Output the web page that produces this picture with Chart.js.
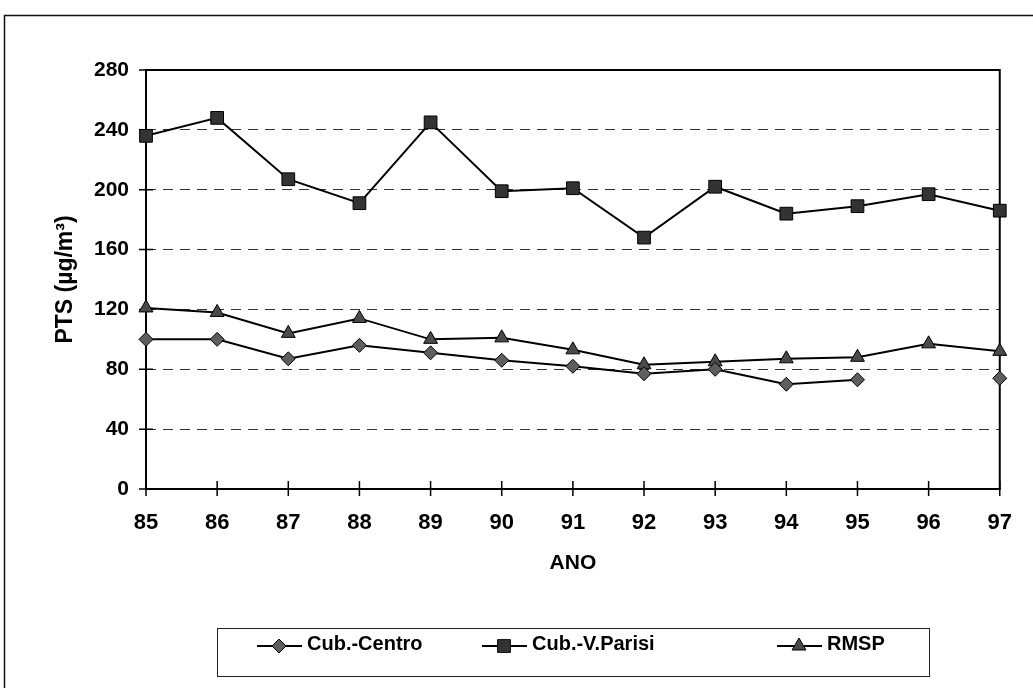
<!DOCTYPE html>
<html>
<head>
<meta charset="utf-8">
<script src="https://cdn.jsdelivr.net/npm/chart.js@4.4.0/dist/chart.umd.min.js"></script>
<style>
  html, body { margin: 0; padding: 0; background: #fff; }
  #wrap { position: relative; width: 1033px; height: 688px; }
</style>
</head>
<body>
<div id="wrap"><canvas id="chart"></canvas></div>
<script>
// ----- data -----
const years = ["85", "86", "87", "88", "89", "90", "91", "92", "93", "94", "95", "96", "97"];
const yTicks = [0, 40, 80, 120, 160, 200, 240, 280];
const cubCentro = [100, 100, 87, 96, 91, 86, 82, 77, 80, 70, 73, null, 74];
const cubParisi = [236, 248, 207, 191, 245, 199, 201, 168, 202, 184, 189, 197, 186];
const rmsp = [121, 118, 104, 114, 100, 101, 93, 83, 85, 87, 88, 97, 92];
const seriesNames = ["Cub.-Centro", "Cub.-V.Parisi", "RMSP"];

const FONT = "'Liberation Sans', Arial, sans-serif";

// plot frame + tick marks crossing the axes
const framePlugin = {
  id: "frame",
  beforeDraw(chart) {
    const ctx = chart.ctx;
    ctx.save();
    ctx.strokeStyle = "#111";
    ctx.lineWidth = 1.5;
    ctx.strokeRect(4.5, 15.5, 1050, 700);
    ctx.restore();
  },
  beforeDatasetsDraw(chart) {
    const { ctx, chartArea: a, scales } = chart;
    ctx.save();
    ctx.strokeStyle = "#000";
    ctx.lineWidth = 2;
    ctx.strokeRect(a.left, a.top, a.right - a.left, a.bottom - a.top);
    ctx.lineWidth = 1.5;
    ctx.beginPath();
    scales.y.ticks.forEach((t, i) => {
      const y = scales.y.getPixelForTick(i);
      ctx.moveTo(a.left - 7, y);
      ctx.lineTo(a.left + 7, y);
    });
    scales.x.ticks.forEach((t, i) => {
      const x = scales.x.getPixelForTick(i);
      ctx.moveTo(x, a.bottom - 8);
      ctx.lineTo(x, a.bottom + 7);
    });
    ctx.stroke();
    ctx.restore();
  },
};

// boxed legend: short line with marker, then the label
const legendPlugin = {
  id: "boxLegend",
  afterDraw(chart) {
    const ctx = chart.ctx;
    const box = { left: 217, top: 628, right: 929, bottom: 676 };
    const cy = 646;
    const lineStarts = [257, 482, 777];
    ctx.save();
    ctx.strokeStyle = "#222";
    ctx.lineWidth = 1;
    ctx.strokeRect(box.left + 0.5, box.top + 0.5, box.right - box.left, box.bottom - box.top);
    chart.data.datasets.forEach((ds, i) => {
      const x0 = lineStarts[i];
      ctx.strokeStyle = "#000";
      ctx.lineWidth = 2;
      ctx.beginPath();
      ctx.moveTo(x0, cy);
      ctx.lineTo(x0 + 45, cy);
      ctx.stroke();
      ctx.fillStyle = ds.pointBackgroundColor;
      ctx.strokeStyle = "#000";
      ctx.lineWidth = 1;
      Chart.helpers.drawPoint(ctx, { pointStyle: ds.pointStyle, radius: ds.pointRadius, rotation: 0, borderWidth: 1 }, x0 + 22, cy);
      ctx.fillStyle = "#000";
      ctx.font = "bold 20px " + FONT;
      ctx.textBaseline = "middle";
      ctx.textAlign = "left";
      ctx.fillText(ds.label, x0 + 50, cy - 2);
    });
    ctx.restore();
  },
};

const lineStyle = {
  borderColor: "#000",
  borderWidth: 2,
  tension: 0,
  spanGaps: false,
  pointBorderColor: "#000",
  pointBorderWidth: 1,
  clip: false,
};

new Chart(document.getElementById("chart"), {
  type: "line",
  data: {
    labels: years,
    datasets: [
      { ...lineStyle, label: seriesNames[0], data: cubCentro, pointStyle: "rectRot", pointRadius: 7, pointBackgroundColor: "#5e5e5e" },
      { ...lineStyle, label: seriesNames[1], data: cubParisi, pointStyle: "rect", pointRadius: 9, pointBackgroundColor: "#333" },
      { ...lineStyle, label: seriesNames[2], data: rmsp, pointStyle: "triangle", pointRadius: 8, pointBackgroundColor: "#4a4a4a" },
    ],
  },
  options: {
    responsive: true,
    maintainAspectRatio: false,
    animation: false,
    layout: { padding: { left: 52, top: 70, right: 32, bottom: 110 } },
    plugins: { legend: { display: false }, tooltip: { enabled: false } },
    elements: { point: { hoverRadius: 7 } },
    scales: {
      x: {
        offset: false,
        grid: { display: false, drawTicks: false },
        border: { display: false },
        ticks: { color: "#000", padding: 21, maxRotation: 0, autoSkip: false, font: { family: FONT, size: 22, weight: "bold" } },
        title: { display: true, text: "ANO", color: "#000", padding: { top: 0, bottom: 2 }, font: { family: FONT, size: 21, weight: "bold" } },
        afterFit(s) { s.height = 89; },
      },
      y: {
        min: 0,
        max: 280,
        afterBuildTicks(s) { s.ticks = yTicks.map((v) => ({ value: v })); },
        grid: {
          drawTicks: false,
          lineWidth: 1,
          color: (c) => (c.tick && (c.tick.value === 0 || c.tick.value === 280) ? "rgba(0,0,0,0)" : "#333"),
        },
        border: { display: false, dash: [10, 7] },
        ticks: { color: "#000", padding: 17, font: { family: FONT, size: 21, weight: "bold" } },
        title: { display: true, text: "PTS (µg/m³)", color: "#000", padding: 0, font: { family: FONT, size: 23, weight: "bold" } },
        afterFit(s) { s.width = 94; },
      },
    },
  },
  plugins: [framePlugin, legendPlugin],
});
</script>
</body>
</html>
